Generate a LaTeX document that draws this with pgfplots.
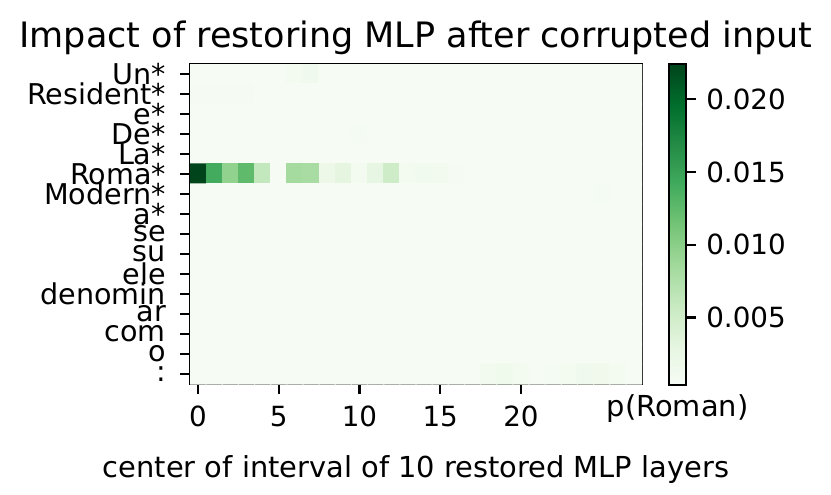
\documentclass[border=0pt]{standalone}
\usepackage{fontspec}
\setmainfont{DejaVu Sans}
\usepackage{pgfplots}
\pgfplotsset{compat=1.18}
% matplotlib "Greens"
\pgfplotsset{colormap={greens}{rgb255=(247,252,245) rgb255=(229,245,224) rgb255=(199,233,192) rgb255=(161,217,155) rgb255=(116,196,118) rgb255=(65,171,93) rgb255=(35,139,69) rgb255=(0,109,44) rgb255=(0,68,27)}}
\newcommand{\tk}{\fontsize{10}{12}\selectfont}
\newcommand{\lb}{\fontsize{10.4}{12}\selectfont}
\begin{document}
\begin{tikzpicture}
\useasboundingbox (-68.4pt,-39.6pt) rectangle (230.76pt,138.24pt);
\begin{axis}[
  at={(0,0)}, anchor=south west,
  scale only axis, width=162.72pt, height=115.2pt,
  xmin=-0.5, xmax=27.5, ymin=-0.5, ymax=15.5, y dir=reverse,
  colormap name=greens,
  point meta min=0.00036, point meta max=0.02242,
  axis line style={line width=0.8pt},
  tick style={line width=0.8pt, black},
  major tick length=3.5pt, tick align=outside,
  xtick pos=bottom, ytick pos=left,
  xtick={0,5,10,15,20},
  ytick={0,...,15},
  yticklabels={Un*,Resident*,e*,De*,La*,Roma*,Modern*,a*,se,su,ele,denomin,ar,com,o,:},
  xticklabel style={font=\tk, inner sep=0pt, anchor=base, yshift=-11.8pt},
  yticklabel style={font=\fontsize{10.3}{12}\selectfont, inner sep=0pt, anchor=east, xshift=-5pt},
  /pgf/number format/assume math mode=true,
  every axis title shift=0pt,
  title={Impact of restoring MLP after corrupted input},
  title style={font=\fontsize{12.6}{14}\selectfont, inner sep=0pt, at={(0.5,1)}, anchor=base, yshift=6.1pt},
  xlabel={center of interval of 10 restored MLP layers},
  xlabel style={font=\lb, inner sep=0pt, at={(0.5,0)}, anchor=base, yshift=-33.6pt},
  colorbar,
  colorbar style={
    at={(parent axis.north east)}, anchor=north west, xshift=1.2pt,
    scale only axis, width=6.12pt, height=115.6pt,
    axis line style={line width=0.8pt},
    ytick={0.005,0.01,0.015,0.02},
    scaled y ticks=false,
    tick style={line width=0.8pt, black}, major tick length=3.5pt, tick align=outside,
    ytick pos=right,
    yticklabel style={font=\tk, inner sep=0pt, anchor=west, xshift=3.6pt,
      /pgf/number format/.cd, fixed, fixed zerofill, precision=3, assume math mode=true},
    every axis title shift=0pt,
    title={p(Roman)},
    title style={font=\lb, inner sep=0pt, at={(0.5,0)}, anchor=base, yshift=-11.2pt},
  },
]
\addplot[matrix plot*, mesh/cols=28, point meta=explicit] coordinates {
(0,0)[0.00045] (1,0)[0.00045] (2,0)[0.00045] (3,0)[0.00045] (4,0)[0.00045] (5,0)[0.00045] (6,0)[0.0010] (7,0)[0.0014] (8,0)[0.00045] (9,0)[0.00045] (10,0)[0.00045] (11,0)[0.00045] (12,0)[0.00045] (13,0)[0.00045] (14,0)[0.00045] (15,0)[0.00045] (16,0)[0.00045] (17,0)[0.00045] (18,0)[0.00045] (19,0)[0.00045] (20,0)[0.00045] (21,0)[0.00045] (22,0)[0.00045] (23,0)[0.00045] (24,0)[0.00045] (25,0)[0.00045] (26,0)[0.00045] (27,0)[0.00045]
(0,1)[0.0007] (1,1)[0.0007] (2,1)[0.0007] (3,1)[0.0007] (4,1)[0.00045] (5,1)[0.00045] (6,1)[0.00045] (7,1)[0.00045] (8,1)[0.00045] (9,1)[0.00045] (10,1)[0.00045] (11,1)[0.00045] (12,1)[0.00045] (13,1)[0.00045] (14,1)[0.00045] (15,1)[0.00045] (16,1)[0.00045] (17,1)[0.00045] (18,1)[0.00045] (19,1)[0.00045] (20,1)[0.00045] (21,1)[0.00045] (22,1)[0.00045] (23,1)[0.00045] (24,1)[0.00045] (25,1)[0.00045] (26,1)[0.00045] (27,1)[0.00045]
(0,2)[0.00045] (1,2)[0.00045] (2,2)[0.00045] (3,2)[0.00045] (4,2)[0.00045] (5,2)[0.00045] (6,2)[0.00045] (7,2)[0.00045] (8,2)[0.00045] (9,2)[0.00045] (10,2)[0.00045] (11,2)[0.00045] (12,2)[0.00045] (13,2)[0.00045] (14,2)[0.00045] (15,2)[0.00045] (16,2)[0.00045] (17,2)[0.00045] (18,2)[0.00045] (19,2)[0.00045] (20,2)[0.00045] (21,2)[0.00045] (22,2)[0.00045] (23,2)[0.00045] (24,2)[0.00045] (25,2)[0.00045] (26,2)[0.00045] (27,2)[0.00045]
(0,3)[0.00045] (1,3)[0.00045] (2,3)[0.00045] (3,3)[0.00045] (4,3)[0.00045] (5,3)[0.00045] (6,3)[0.00045] (7,3)[0.00045] (8,3)[0.00045] (9,3)[0.00045] (10,3)[0.0008] (11,3)[0.00045] (12,3)[0.00045] (13,3)[0.00045] (14,3)[0.00045] (15,3)[0.00045] (16,3)[0.00045] (17,3)[0.00045] (18,3)[0.00045] (19,3)[0.00045] (20,3)[0.00045] (21,3)[0.00045] (22,3)[0.00045] (23,3)[0.00045] (24,3)[0.00045] (25,3)[0.00045] (26,3)[0.00045] (27,3)[0.00045]
(0,4)[0.00045] (1,4)[0.00045] (2,4)[0.00045] (3,4)[0.00045] (4,4)[0.00045] (5,4)[0.00045] (6,4)[0.00045] (7,4)[0.00045] (8,4)[0.00045] (9,4)[0.00045] (10,4)[0.00045] (11,4)[0.00045] (12,4)[0.00045] (13,4)[0.00045] (14,4)[0.00045] (15,4)[0.00045] (16,4)[0.00045] (17,4)[0.00045] (18,4)[0.00045] (19,4)[0.00045] (20,4)[0.00045] (21,4)[0.00045] (22,4)[0.00045] (23,4)[0.00045] (24,4)[0.00045] (25,4)[0.00045] (26,4)[0.00045] (27,4)[0.00045]
(0,5)[0.0224] (1,5)[0.0141] (2,5)[0.0096] (3,5)[0.0125] (4,5)[0.0061] (5,5)[0.0005] (6,5)[0.0083] (7,5)[0.0081] (8,5)[0.0019] (9,5)[0.0031] (10,5)[0.0010] (11,5)[0.0029] (12,5)[0.0052] (13,5)[0.0010] (14,5)[0.0013] (15,5)[0.0012] (16,5)[0.0007] (17,5)[0.00045] (18,5)[0.00045] (19,5)[0.00045] (20,5)[0.00045] (21,5)[0.00045] (22,5)[0.00045] (23,5)[0.00045] (24,5)[0.00045] (25,5)[0.00045] (26,5)[0.00045] (27,5)[0.00045]
(0,6)[0.00045] (1,6)[0.00045] (2,6)[0.00045] (3,6)[0.00045] (4,6)[0.00045] (5,6)[0.00045] (6,6)[0.00045] (7,6)[0.00045] (8,6)[0.00045] (9,6)[0.00045] (10,6)[0.00045] (11,6)[0.00045] (12,6)[0.00045] (13,6)[0.00045] (14,6)[0.00045] (15,6)[0.00045] (16,6)[0.00045] (17,6)[0.00045] (18,6)[0.00045] (19,6)[0.00045] (20,6)[0.00045] (21,6)[0.00045] (22,6)[0.00045] (23,6)[0.00045] (24,6)[0.00045] (25,6)[0.0008] (26,6)[0.00045] (27,6)[0.00045]
(0,7)[0.00045] (1,7)[0.00045] (2,7)[0.00045] (3,7)[0.00045] (4,7)[0.00045] (5,7)[0.00045] (6,7)[0.00045] (7,7)[0.00045] (8,7)[0.00045] (9,7)[0.00045] (10,7)[0.00045] (11,7)[0.00045] (12,7)[0.00045] (13,7)[0.00045] (14,7)[0.00045] (15,7)[0.00045] (16,7)[0.00045] (17,7)[0.00045] (18,7)[0.00045] (19,7)[0.00045] (20,7)[0.00045] (21,7)[0.00045] (22,7)[0.00045] (23,7)[0.00045] (24,7)[0.00045] (25,7)[0.00045] (26,7)[0.00045] (27,7)[0.00045]
(0,8)[0.00045] (1,8)[0.00045] (2,8)[0.00045] (3,8)[0.00045] (4,8)[0.00045] (5,8)[0.00045] (6,8)[0.00045] (7,8)[0.00045] (8,8)[0.00045] (9,8)[0.00045] (10,8)[0.00045] (11,8)[0.00045] (12,8)[0.00045] (13,8)[0.00045] (14,8)[0.00045] (15,8)[0.00045] (16,8)[0.00045] (17,8)[0.00045] (18,8)[0.00045] (19,8)[0.00045] (20,8)[0.00045] (21,8)[0.00045] (22,8)[0.00045] (23,8)[0.00045] (24,8)[0.00045] (25,8)[0.00045] (26,8)[0.00045] (27,8)[0.00045]
(0,9)[0.00045] (1,9)[0.00045] (2,9)[0.00045] (3,9)[0.00045] (4,9)[0.00045] (5,9)[0.00045] (6,9)[0.00045] (7,9)[0.00045] (8,9)[0.00045] (9,9)[0.00045] (10,9)[0.00045] (11,9)[0.00045] (12,9)[0.00045] (13,9)[0.00045] (14,9)[0.00045] (15,9)[0.00045] (16,9)[0.00045] (17,9)[0.00045] (18,9)[0.00045] (19,9)[0.00045] (20,9)[0.00045] (21,9)[0.00045] (22,9)[0.00045] (23,9)[0.00045] (24,9)[0.00045] (25,9)[0.00045] (26,9)[0.00045] (27,9)[0.00045]
(0,10)[0.00045] (1,10)[0.00045] (2,10)[0.00045] (3,10)[0.00045] (4,10)[0.00045] (5,10)[0.00045] (6,10)[0.00045] (7,10)[0.00045] (8,10)[0.00045] (9,10)[0.00045] (10,10)[0.00045] (11,10)[0.00045] (12,10)[0.00045] (13,10)[0.00045] (14,10)[0.00045] (15,10)[0.00045] (16,10)[0.00045] (17,10)[0.00045] (18,10)[0.00045] (19,10)[0.00045] (20,10)[0.00045] (21,10)[0.00045] (22,10)[0.00045] (23,10)[0.00045] (24,10)[0.00045] (25,10)[0.00045] (26,10)[0.00045] (27,10)[0.00045]
(0,11)[0.00045] (1,11)[0.00045] (2,11)[0.00045] (3,11)[0.00045] (4,11)[0.00045] (5,11)[0.00045] (6,11)[0.00045] (7,11)[0.00045] (8,11)[0.00045] (9,11)[0.00045] (10,11)[0.00045] (11,11)[0.00045] (12,11)[0.00045] (13,11)[0.00045] (14,11)[0.00045] (15,11)[0.00045] (16,11)[0.00045] (17,11)[0.00045] (18,11)[0.00045] (19,11)[0.00045] (20,11)[0.00045] (21,11)[0.00045] (22,11)[0.00045] (23,11)[0.00045] (24,11)[0.00045] (25,11)[0.00045] (26,11)[0.00045] (27,11)[0.00045]
(0,12)[0.00045] (1,12)[0.00045] (2,12)[0.00045] (3,12)[0.00045] (4,12)[0.00045] (5,12)[0.00045] (6,12)[0.00045] (7,12)[0.00045] (8,12)[0.00045] (9,12)[0.00045] (10,12)[0.00045] (11,12)[0.00045] (12,12)[0.00045] (13,12)[0.00045] (14,12)[0.00045] (15,12)[0.00045] (16,12)[0.00045] (17,12)[0.00045] (18,12)[0.00045] (19,12)[0.00045] (20,12)[0.00045] (21,12)[0.00045] (22,12)[0.00045] (23,12)[0.00045] (24,12)[0.00045] (25,12)[0.00045] (26,12)[0.00045] (27,12)[0.00045]
(0,13)[0.00045] (1,13)[0.00045] (2,13)[0.00045] (3,13)[0.00045] (4,13)[0.00045] (5,13)[0.00045] (6,13)[0.00045] (7,13)[0.00045] (8,13)[0.00045] (9,13)[0.00045] (10,13)[0.00045] (11,13)[0.00045] (12,13)[0.00045] (13,13)[0.00045] (14,13)[0.00045] (15,13)[0.00045] (16,13)[0.00045] (17,13)[0.00045] (18,13)[0.00045] (19,13)[0.00045] (20,13)[0.00045] (21,13)[0.00045] (22,13)[0.00045] (23,13)[0.00045] (24,13)[0.00045] (25,13)[0.00045] (26,13)[0.00045] (27,13)[0.00045]
(0,14)[0.00045] (1,14)[0.00045] (2,14)[0.00045] (3,14)[0.00045] (4,14)[0.00045] (5,14)[0.00045] (6,14)[0.00045] (7,14)[0.00045] (8,14)[0.00045] (9,14)[0.00045] (10,14)[0.00045] (11,14)[0.00045] (12,14)[0.00045] (13,14)[0.00045] (14,14)[0.00045] (15,14)[0.00045] (16,14)[0.00045] (17,14)[0.00045] (18,14)[0.00045] (19,14)[0.00045] (20,14)[0.00045] (21,14)[0.00045] (22,14)[0.00045] (23,14)[0.00045] (24,14)[0.00045] (25,14)[0.00045] (26,14)[0.00045] (27,14)[0.00045]
(0,15)[0.00045] (1,15)[0.00045] (2,15)[0.00045] (3,15)[0.00045] (4,15)[0.00045] (5,15)[0.00045] (6,15)[0.00045] (7,15)[0.00045] (8,15)[0.00045] (9,15)[0.00045] (10,15)[0.00045] (11,15)[0.00045] (12,15)[0.00045] (13,15)[0.00045] (14,15)[0.00045] (15,15)[0.00045] (16,15)[0.00045] (17,15)[0.00045] (18,15)[0.0012] (19,15)[0.0016] (20,15)[0.0010] (21,15)[0.00045] (22,15)[0.0008] (23,15)[0.0009] (24,15)[0.0014] (25,15)[0.0015] (26,15)[0.0009] (27,15)[0.00045]
};
\end{axis}
\end{tikzpicture}
\end{document}
